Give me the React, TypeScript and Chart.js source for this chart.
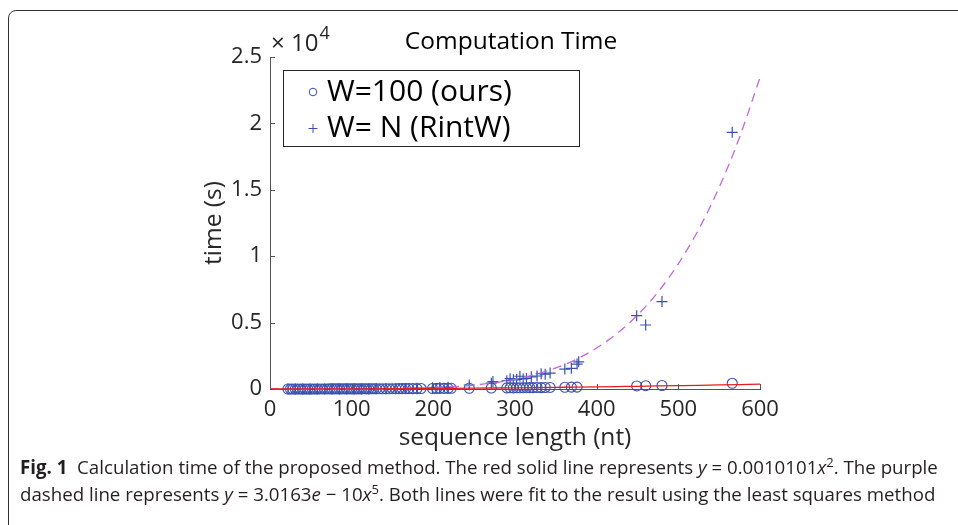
import React, { useEffect, useRef } from "react";
import { Chart, registerables } from "chart.js";
Chart.register(...registerables);

const FONT = '"Open Sans", "Noto Sans", sans-serif';

// W=100 (ours) — circles
const oursX = [22, 25, 28, 31, 34, 37, 40, 43, 46, 49, 52, 55, 58, 61, 64, 67, 70, 73, 76, 79, 82, 85, 88, 91, 94, 97, 100, 103, 106, 109, 112, 115, 118, 121, 124, 127, 130, 134, 138, 142, 146, 150, 154, 158, 162, 166, 170, 175, 180, 185, 199, 204, 208, 213, 218, 222, 244, 271, 290, 294, 298, 302, 306, 310, 314, 318, 322, 327, 332, 337, 343, 361, 369, 376, 449, 460, 480, 566];
const oursY = [1, 1, 1, 2, 1, 2, 2, 3, 2, 3, 3, 4, 3, 4, 5, 4, 5, 6, 6, 7, 6, 8, 7, 9, 8, 10, 11, 10, 12, 11, 13, 14, 13, 15, 16, 15, 18, 17, 20, 19, 22, 24, 23, 26, 25, 29, 28, 32, 31, 36, 38, 44, 42, 47, 46, 52, 58, 76, 83, 90, 88, 95, 92, 99, 98, 104, 101, 110, 107, 116, 118, 130, 140, 141, 230, 250, 265, 430];

// W= N (RintW) — crosses
const rintX = [22, 31, 40, 49, 58, 67, 76, 85, 94, 103, 112, 121, 130, 142, 154, 166, 180, 199, 208, 218, 244, 271, 273, 290, 294, 298, 302, 306, 310, 314, 320, 327, 332, 337, 343, 361, 369, 376, 378, 449, 460, 480, 566];
const rintY = [0, 0, 0, 0, 0, 0, 1, 1, 2, 3, 5, 8, 11, 18, 26, 38, 60, 90, 110, 140, 300, 440, 560, 620, 780, 690, 720, 960, 760, 800, 920, 980, 1150, 1120, 1200, 1500, 1560, 1880, 2050, 5520, 4820, 6580, 19330];

// fitted curves (values as given by the caption formulas)
const fitX = [0, 50, 100, 150, 200, 225, 250, 275, 300, 325, 350, 375, 400, 425, 450, 475, 500, 525, 550, 575, 600];
const quadY = [0, 2.5, 10.1, 22.7, 40.4, 51.1, 63.1, 76.4, 90.9, 106.7, 123.7, 142.0, 161.6, 182.5, 204.5, 227.9, 252.5, 278.4, 305.6, 334.0, 363.6];
const quinticY = [0, 0.09, 3.0, 22.9, 96.5, 173.9, 294.6, 474.4, 733.0, 1093.7, 1584.2, 2236.8, 3088.7, 4182.3, 5565.9, 7293.6, 9426.0, 12030.1, 15180.5, 18958.9, 23454.7];

const xTicks = [0, 100, 200, 300, 400, 500, 600];
const yTicks = [0, 5000, 10000, 15000, 20000, 25000];

const BLUE = "rgb(58, 80, 172)";
const RED = "rgb(228, 30, 30)";
const PURPLE = "rgb(196, 104, 216)";
const AXIS = "#555555";
const TXT = "#262626";

const pts = (xs: number[], ys: number[]) => xs.map((x, i) => ({ x, y: ys[i] }));

const overlay = {
  id: "overlay",
  afterDatasetsDraw(chart: any) {
    const { ctx, chartArea, scales } = chart;
    ctx.save();
    ctx.strokeStyle = AXIS;
    ctx.lineWidth = 1;
    ctx.beginPath();
    for (const t of xTicks) {
      const px = Math.round(scales.x.getPixelForValue(t)) + 0.5;
      ctx.moveTo(px, chartArea.bottom);
      ctx.lineTo(px, chartArea.bottom - 5);
    }
    for (const t of yTicks) {
      const py = Math.round(scales.y.getPixelForValue(t)) + 0.5;
      ctx.moveTo(chartArea.left, py);
      ctx.lineTo(chartArea.left + 5, py);
    }
    ctx.stroke();
    ctx.restore();
  },
  afterDraw(chart: any) {
    const { ctx, chartArea } = chart;
    ctx.save();
    // title
    ctx.fillStyle = "#000";
    ctx.font = `24.5px ${FONT}`;
    ctx.textAlign = "center";
    ctx.textBaseline = "middle";
    ctx.fillText("Computation Time", 511, 42);
    // exponent
    ctx.fillStyle = TXT;
    ctx.textAlign = "left";
    ctx.font = `24px ${FONT}`;
    ctx.fillText("\u00d7 10", chartArea.left + 1, 44);
    const w = ctx.measureText("\u00d7 10").width;
    ctx.font = `18px ${FONT}`;
    ctx.fillText("4", chartArea.left + 2 + w, 34);
    // legend
    const lx = 283.5, ly = 70.5, lw = 296, lh = 76;
    ctx.fillStyle = "#fff";
    ctx.fillRect(lx, ly, lw, lh);
    ctx.strokeStyle = "#262626";
    ctx.lineWidth = 1;
    ctx.strokeRect(lx, ly, lw, lh);
    ctx.strokeStyle = BLUE;
    ctx.beginPath();
    ctx.arc(313, 92, 3.8, 0, Math.PI * 2);
    ctx.stroke();
    ctx.beginPath();
    ctx.moveTo(308.5, 128.5);
    ctx.lineTo(317.5, 128.5);
    ctx.moveTo(313, 124);
    ctx.lineTo(313, 133);
    ctx.stroke();
    ctx.fillStyle = "#000";
    ctx.font = `30px ${FONT}`;
    ctx.textBaseline = "middle";
    ctx.fillText("W=100 (ours)", 327, 92);
    ctx.fillText("W= N (RintW)", 327, 128);
    ctx.restore();
  },
};

export default function App() {
  const ref = useRef<HTMLCanvasElement>(null);
  useEffect(() => {
    const chart = new Chart(ref.current!, {
      type: "scatter",
      data: {
        datasets: [
          {
            label: "quadratic fit",
            type: "line",
            data: pts(fitX, quadY),
            borderColor: RED,
            borderWidth: 1.3,
            pointRadius: 0,
            cubicInterpolationMode: "monotone",
            fill: false,
            order: 0,
            clip: false,
          } as any,
          {
            label: "quintic fit",
            type: "line",
            data: pts(fitX, quinticY),
            borderColor: PURPLE,
            borderWidth: 1.3,
            borderDash: [9, 6],
            pointRadius: 0,
            cubicInterpolationMode: "monotone",
            fill: false,
            order: 0,
            clip: false,
          } as any,
          {
            label: "W=100 (ours)",
            data: pts(oursX, oursY),
            pointStyle: "circle",
            pointRadius: 5,
            borderColor: BLUE,
            backgroundColor: "rgba(0,0,0,0)",
            borderWidth: 1.1,
            order: 2,
            clip: false,
          } as any,
          {
            label: "W= N (RintW)",
            data: pts(rintX, rintY),
            pointStyle: "cross",
            pointRadius: 5.5,
            borderColor: BLUE,
            backgroundColor: BLUE,
            borderWidth: 1.2,
            order: 1,
            clip: false,
          } as any,
        ],
      },
      options: {
        responsive: false,
        maintainAspectRatio: false,
        animation: false,
        layout: { padding: { left: 0, top: 57, right: 198, bottom: 0 } },
        plugins: {
          legend: { display: false },
          title: { display: false },
          tooltip: { enabled: false },
        },
        scales: {
          x: {
            type: "linear",
            min: 0,
            max: 600,
            afterFit: (s: any) => { s.height = 71; },
            afterBuildTicks: (s: any) => { s.ticks = xTicks.map((v) => ({ value: v })); },
            grid: { display: false, drawTicks: false },
            border: { display: true, color: AXIS, width: 1 },
            ticks: { color: TXT, font: { family: FONT, size: 22 }, padding: 8, maxRotation: 0 },
            title: {
              display: true,
              text: "sequence length (nt)",
              color: TXT,
              font: { family: FONT, size: 24.5 },
              padding: { top: 0, bottom: 7 },
            },
          },
          y: {
            type: "linear",
            min: 0,
            max: 25000,
            afterFit: (s: any) => { s.width = 270; },
            afterBuildTicks: (s: any) => { s.ticks = yTicks.map((v) => ({ value: v })); },
            grid: { display: false, drawTicks: false },
            border: { display: true, color: AXIS, width: 1 },
            ticks: {
              color: TXT,
              font: { family: FONT, size: 22 },
              padding: 8,
              callback: (v: any) => String(Number(v) / 10000),
            },
            title: {
              display: true,
              text: "time (s)",
              color: TXT,
              font: { family: FONT, size: 24.5 },
              padding: { top: 199, bottom: 0 },
            },
          },
        },
      },
      plugins: [overlay],
    } as any);
    return () => chart.destroy();
  }, []);

  const cap: React.CSSProperties = {
    position: "absolute",
    left: 20,
    whiteSpace: "nowrap",
    fontFamily: FONT,
    fontSize: 18.7,
    lineHeight: "22px",
    color: "#231f20",
  };
  const sup: React.CSSProperties = { fontSize: 13, verticalAlign: "7px", lineHeight: 0 };

  return (
    <div style={{ position: "absolute", left: 0, top: 0, width: 958, height: 525, overflow: "hidden", background: "#fff" }}>
      <div
        style={{
          position: "absolute",
          left: 8,
          top: 10,
          width: 1100,
          height: 700,
          border: "1.5px solid #333",
          borderRadius: 8,
          boxSizing: "border-box",
        }}
      />
      <canvas ref={ref} width={958} height={460} style={{ position: "absolute", left: 0, top: 0 }} />
      <div style={{ ...cap, top: 456 }}>
        <b>Fig. 1</b>&nbsp; Calculation time of the proposed method. The red solid line represents <i>y</i> = 0.0010101<i>x</i>
        <span style={sup}>2</span>. The purple
      </div>
      <div style={{ ...cap, top: 483 }}>
        dashed line represents <i>y</i> = 3.0163<i>e</i> − 10<i>x</i>
        <span style={sup}>5</span>. Both lines were fit to the result using the least squares method
      </div>
    </div>
  );
}
